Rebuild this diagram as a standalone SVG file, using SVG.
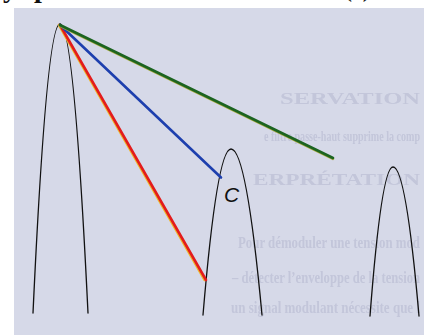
<svg xmlns="http://www.w3.org/2000/svg" width="430" height="335" viewBox="0 0 430 335">
  <defs>
    <clipPath id="top">
      <rect x="0" y="0" width="430" height="8"/>
    </clipPath>
    <filter id="soft" x="-5%" y="-30%" width="110%" height="160%">
      <feGaussianBlur stdDeviation="0.7"/>
    </filter>
    <style>
      .arch { fill: none; stroke: #111; stroke-width: 1.3; stroke-linecap: round; }
      .ray { fill: none; stroke-width: 2.6; stroke-linecap: round; }
      .faint { fill: #c3c6da; font-family: "Liberation Serif", "DejaVu Serif", serif; font-weight: bold; }
      .caption { fill: #111; font-family: "Liberation Serif", "DejaVu Serif", serif; font-weight: bold; }
    </style>
  </defs>

  <rect x="0" y="0" width="430" height="335" fill="#ffffff"/>

  <!-- cut-off caption fragments at top -->
  <g clip-path="url(#top)">
    <text class="caption" x="3" y="-3" font-size="28">y</text>
    <text class="caption" x="34" y="-3" font-size="28">p</text>
    <text class="caption" x="344" y="-3" font-size="24" font-weight="normal">(c)</text>
  </g>

  <!-- page background with faint show-through text -->
  <g id="background">
    <rect x="14" y="8" width="410" height="327" fill="#d6d9e8"/>
    <g filter="url(#soft)">
      <text class="faint" x="280" y="104" font-size="16" textLength="140" lengthAdjust="spacingAndGlyphs">SERVATION</text>
      <text class="faint" x="264" y="141" font-size="15" textLength="156" lengthAdjust="spacingAndGlyphs">e filtre passe-haut supprime la comp</text>
      <text class="faint" x="253" y="185" font-size="17" textLength="167" lengthAdjust="spacingAndGlyphs">ERPRÉTATION</text>
      <text class="faint" x="238" y="248" font-size="16" textLength="182" lengthAdjust="spacingAndGlyphs">Pour démoduler une tension mod</text>
      <text class="faint" x="232" y="283" font-size="16" textLength="188" lengthAdjust="spacingAndGlyphs">– détecter l’enveloppe de la tension</text>
      <text class="faint" x="231" y="313" font-size="16" textLength="189" lengthAdjust="spacingAndGlyphs">un signal modulant nécessite que l</text>
    </g>
  </g>

  <!-- nodes -->
  <g id="arch-left">
    <path class="arch" d="M33,313 Q46.5,24 60,24 Q74,24 88,313"/>
  </g>
  <g id="arch-middle">
    <path class="arch" d="M203,315 Q217,149 231,149 Q246.5,149 262,315"/>
    <text x="224" y="201.5" font-size="21" font-style="italic" font-family="Liberation Sans, Arial, sans-serif" fill="#111">C</text>
  </g>
  <g id="arch-right">
    <path class="arch" d="M370,316 Q381.5,167 393,167 Q406,167 419,316"/>
  </g>

  <!-- connectors -->
  <g id="connectors">
    <line class="ray" x1="59" y1="25" x2="204.7" y2="280" stroke="#efb62a" stroke-width="1.6"/>
    <line class="ray" x1="60" y1="25" x2="206" y2="280" stroke="#e31c1c" stroke-width="2.3"/>
    <line class="ray" x1="60" y1="25" x2="221" y2="177.5" stroke="#1d3fae"/>
    <line class="ray" x1="60" y1="25.8" x2="333" y2="158.8" stroke="#a6a83a" stroke-width="1.6"/>
    <line class="ray" x1="60" y1="25" x2="333" y2="158" stroke="#1c6420"/>
  </g>
</svg>
